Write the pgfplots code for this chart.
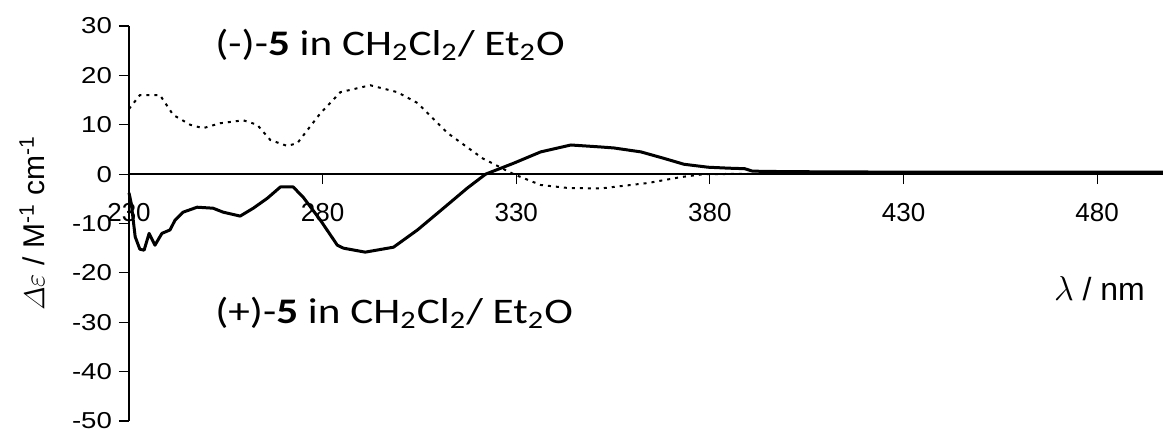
\documentclass[border=0pt]{standalone}
\usepackage{amsmath}
\usepackage{graphicx}
\usepackage{fontspec}
\setmainfont{Liberation Sans}
\newfontfamily\calib{Carlito}
\usepackage{pgfplots}
\usepackage{pgfplotstable}
\pgfplotsset{compat=1.18}

% (+)-5, solid
\pgfplotstableread{
nm    de
230.0 -3.8
230.6 -6.0
231.6 -12.7
232.8 -15.2
233.9 -15.4
235.2 -12.0
236.7 -14.4
238.5 -12.0
240.6 -11.3
241.9 -9.3
244.0 -7.7
247.6 -6.7
251.7 -6.9
254.3 -7.7
258.7 -8.5
262.1 -6.9
265.7 -4.9
269.1 -2.6
272.4 -2.6
275.0 -4.7
279.4 -9.3
283.8 -14.4
285.4 -15.0
291.0 -15.8
298.3 -14.8
304.5 -11.3
311.2 -6.9
317.4 -2.8
322.1 0.0
329.3 2.2
336.3 4.5
344.1 5.9
351.8 5.5
355.2 5.3
362.2 4.5
368.1 3.2
373.3 2.0
379.5 1.4
385.0 1.2
389.0 1.1
391.0 0.6
400.0 0.5
430.0 0.4
460.0 0.4
497.0 0.4
}\plus

% (-)-5, dotted
\pgfplotstableread{
nm    de
230.0 13.2
232.8 16.0
238.0 16.0
241.4 12.0
245.8 10.0
249.1 9.3
253.5 10.3
259.5 10.9
263.1 10.0
266.5 6.9
270.9 5.7
273.5 6.3
279.4 12.3
284.6 16.6
292.3 18.0
299.3 16.6
304.5 14.4
312.3 8.3
321.3 3.2
329.3 0.0
336.3 -2.2
343.3 -2.8
351.8 -2.9
364.0 -1.8
372.5 -0.6
378.5 0.0
400.0 0.1
497.0 0.1
}\minus

\begin{document}
\begin{tikzpicture}
\begin{axis}[
  at={(0,0)}, anchor=south west,
  width=517pt, height=197.5pt, scale only axis,
  xmin=230, xmax=497, ymin=-50, ymax=30,
  axis x line=middle, axis y line=left,
  axis line style={-, line width=0.7pt},
  xtick={230,280,...,480}, ytick={-50,-40,...,30},
  tick style={black, line width=0.6pt},
  major tick length=5pt,
  xtick align=outside, ytick align=outside,
  hide obscured x ticks=false, hide obscured y ticks=false,
  /pgf/number format/assume math mode=true,
  x tick label style={anchor=center, yshift=-14pt, font=\fontsize{13}{13}\selectfont},
  y tick label style={anchor=east, font=\fontsize{11.5}{11.5}\selectfont},
  yticklabel={\scalebox{1.2}[1]{\pgfmathprintnumber{\tick}}},
  ylabel={$\varDelta\varepsilon$ / M\textsuperscript{-1} cm\textsuperscript{-1}},
  ylabel style={at={(axis description cs:-0.0938,0.5)}, anchor=center, font=\fontsize{15}{15}\selectfont},
  clip=false,
]
\addplot[black, line width=1pt, dash pattern=on 1.5pt off 2.5pt] table[x=nm, y=de] {\minus};
\addplot[black, line width=1.5pt, line join=round] table[x=nm, y=de] {\plus};
\node[anchor=base west, inner sep=0, font=\calib\fontsize{18}{18}\selectfont] at (axis cs:252.2,24.1)
  {\scalebox{1.2}[1]{(-)-\textbf{5} in CH\textsubscript{2}Cl\textsubscript{2}/ Et\textsubscript{2}O}};
\node[anchor=base west, inner sep=0, font=\calib\fontsize{18}{18}\selectfont] at (axis cs:252.2,-30.2)
  {\scalebox{1.2}[1]{(+)-\textbf{5} in CH\textsubscript{2}Cl\textsubscript{2}/ Et\textsubscript{2}O}};
\node[anchor=base, inner sep=0, font=\fontsize{16}{16}\selectfont] at (axis cs:480.6,-25.5)
  {$\lambda$ / nm};
\end{axis}
\pgfresetboundingbox
\path (-64.5pt,-4pt) rectangle (517pt,210.5pt);
\end{tikzpicture}
\end{document}
